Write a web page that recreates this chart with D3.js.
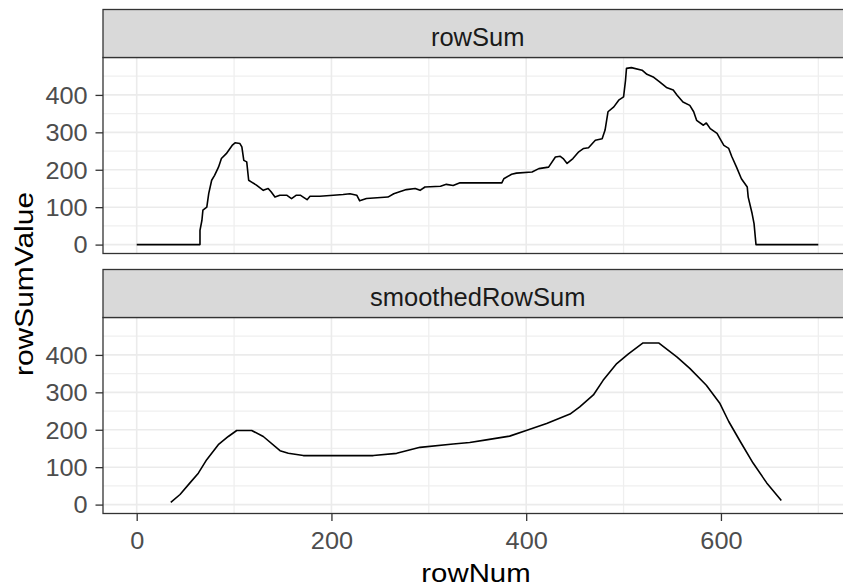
<!DOCTYPE html>
<html>
<head>
<meta charset="utf-8">
<script src="https://cdn.jsdelivr.net/npm/d3@7"></script>
<style>
  body { margin: 0; background: #fff; }
  svg { display: block; }
</style>
</head>
<body>
<svg id="chart"></svg>
<script>
// raw row sums (top facet)
var rowSumNum = [0, 65, 65, 67, 68, 72, 74, 77, 80, 84, 87, 92, 98, 101, 106, 108, 110, 113, 115, 118,
	123, 130, 135, 138, 142, 147, 154, 159, 164, 168, 171, 175, 178, 188, 202, 212, 219, 226, 229, 236,
	247, 258, 264, 270, 277, 286, 291, 296, 312, 318, 325, 332, 353, 375, 377, 385, 390, 406, 413, 423,
	430, 435, 438, 442, 448, 454, 459, 464, 471, 478, 481, 484, 490, 495, 500, 502, 503, 508, 519, 524,
	531, 537, 544, 551, 555, 561, 568, 572, 575, 582, 585, 589, 596, 599, 603, 608, 611, 616, 621, 627,
	628, 632, 634, 636, 700];
var rowSumValue = [0, 0, 38, 65, 92, 100, 137, 172, 185, 207, 230, 243, 265, 272, 270, 261, 225, 221, 172, 167,
	159, 145, 150, 141, 127, 132, 132, 123, 132, 132, 127, 120, 129, 129, 132, 134, 136, 132, 117, 123,
	125, 127, 136, 141, 147, 150, 145, 154, 156, 161, 158, 165, 165, 165, 176, 188, 191, 194, 203, 207,
	234, 236, 230, 217, 230, 248, 257, 259, 279, 283, 306, 355, 368, 386, 395, 439, 471, 473, 466, 455,
	447, 435, 420, 413, 399, 381, 372, 355, 332, 319, 325, 310, 297, 283, 265, 257, 236, 207, 176, 154,
	127, 83, 56, 0, 0];

// smoothed row sums (bottom facet)
var smoothNum = [35, 44.5, 54.7, 63.3, 71.9, 83.8, 94.1, 102.7, 118.1, 130, 147.2, 155.7, 171.1, 243, 267,
	291, 325, 342, 359, 383, 400, 421, 445, 455, 469, 479, 493, 505, 520, 536, 555, 568, 585, 599, 608,
	620, 633, 647, 662];
var smoothValue = [6, 27, 58, 84, 120, 160, 182, 198, 198, 182, 144, 137, 131, 131, 137,
	153, 162, 166, 173, 183, 198, 217, 242, 261, 293, 332, 377, 403, 432, 432, 394, 364, 319, 270, 222,
	168, 111, 58, 11];

var facetNames = ["rowSum", "smoothedRowSum"];
var xBreaks = [0, 200, 400, 600];
var xMinor = [100, 300, 500, 700];
var yBreaks = [0, 100, 200, 300, 400];
var yMinor = [50, 150, 250, 350, 450];

var drawFacets = function() {
	var width = 843, height = 587;
	var left = 103, right = 852.4;
	var stripH = 48, panelH = 196;
	var panelTops = [57.5, 317.5];
	var fontFam = "'Liberation Sans', Arial, sans-serif";

	var svg = d3.select("#chart")
		.attr("width", width)
		.attr("height", height)
		.style("overflow", "hidden");

	var x = d3.scaleLinear().domain([-34.6, 735]).range([left, right]);
	var y = d3.scaleLinear().domain([-23.8, 500]).range([panelH, 0]);

	var series = [
		rowSumNum.map(function(d, i) { return [d, rowSumValue[i]]; }),
		smoothNum.map(function(d, i) { return [d, smoothValue[i]]; })
	];

	var line = d3.line()
		.x(function(d) { return x(d[0]); })
		.y(function(d) { return y(d[1]); });

	for (var i = 0; i < facetNames.length; i++) {
		var panelTop = panelTops[i];
		var g = svg.append("g").attr("transform", "translate(0," + panelTop + ")");

		g.append("rect")
			.attr("x", left).attr("y", 0)
			.attr("width", right - left).attr("height", panelH)
			.attr("fill", "white");

		// minor grid
		g.selectAll(".hminor").data(yMinor).enter().append("line")
			.attr("x1", left).attr("x2", right)
			.attr("y1", d => y(d)).attr("y2", d => y(d))
			.attr("stroke", "#EFEFEF").attr("stroke-width", 1.3);
		g.selectAll(".vminor").data(xMinor).enter().append("line")
			.attr("x1", d => x(d)).attr("x2", d => x(d))
			.attr("y1", 0).attr("y2", panelH)
			.attr("stroke", "#EFEFEF").attr("stroke-width", 1.3);
		// major grid
		g.selectAll(".hmajor").data(yBreaks).enter().append("line")
			.attr("x1", left).attr("x2", right)
			.attr("y1", d => y(d)).attr("y2", d => y(d))
			.attr("stroke", "#EBEBEB").attr("stroke-width", 1.6);
		g.selectAll(".vmajor").data(xBreaks).enter().append("line")
			.attr("x1", d => x(d)).attr("x2", d => x(d))
			.attr("y1", 0).attr("y2", panelH)
			.attr("stroke", "#EBEBEB").attr("stroke-width", 1.6);

		g.append("path")
			.datum(series[i])
			.attr("d", line)
			.attr("fill", "none")
			.attr("stroke", "black")
			.attr("stroke-width", 1.6)
			.attr("stroke-linejoin", "round");

		g.append("rect")
			.attr("x", left).attr("y", 0)
			.attr("width", right - left).attr("height", panelH)
			.attr("fill", "none")
			.attr("stroke", "#333333").attr("stroke-width", 1.3);

		// strip
		g.append("rect")
			.attr("x", left).attr("y", -stripH)
			.attr("width", right - left).attr("height", stripH)
			.attr("fill", "#D9D9D9")
			.attr("stroke", "#333333").attr("stroke-width", 1.3);
		g.append("text")
			.attr("x", (left + right) / 2)
			.attr("y", -stripH + 36.5)
			.attr("text-anchor", "middle")
			.style("font-family", fontFam)
			.style("font-size", "25.5px")
			.attr("fill", "#1A1A1A")
			.text(facetNames[i]);

		// y axis
		var yAx = g.append("g")
			.attr("transform", "translate(" + left + ",0)")
			.call(d3.axisLeft(y).tickValues(yBreaks).tickSize(7.5).tickSizeOuter(0));
		yAx.select(".domain").remove();
		yAx.selectAll("line").attr("stroke", "#333333").attr("stroke-width", 1.3);
		yAx.selectAll("text")
			.attr("x", null)
			.attr("dy", "0.36em")
			.attr("transform", "translate(-15.4,0) scale(1.1,1)")
			.style("font-family", fontFam)
			.style("font-size", "23px")
			.attr("fill", "#4D4D4D");

		if (i == facetNames.length - 1) {
			var xAx = g.append("g")
				.attr("transform", "translate(0," + panelH + ")")
				.call(d3.axisBottom(x).tickValues(xBreaks).tickSize(7.5).tickSizeOuter(0));
			xAx.select(".domain").remove();
			xAx.selectAll("line").attr("stroke", "#333333").attr("stroke-width", 1.3);
			xAx.selectAll("text")
				.attr("y", null)
				.attr("dy", null)
				.attr("transform", "translate(0,35) scale(1.1,1)")
				.style("font-family", fontFam)
				.style("font-size", "23px")
				.attr("fill", "#4D4D4D");
		}
	}

	// axis titles
	svg.append("text")
		.attr("text-anchor", "middle")
		.attr("transform", "translate(476,581.5) scale(1.13,1)")
		.style("font-family", fontFam)
		.style("font-size", "26px")
		.attr("fill", "black")
		.text("rowNum");

	svg.append("text")
		.attr("text-anchor", "middle")
		.attr("transform", "translate(32.5,284) rotate(-90) scale(1.13,1)")
		.style("font-family", fontFam)
		.style("font-size", "26.5px")
		.attr("fill", "black")
		.text("rowSumValue");
};

drawFacets();
</script>
</body>
</html>
